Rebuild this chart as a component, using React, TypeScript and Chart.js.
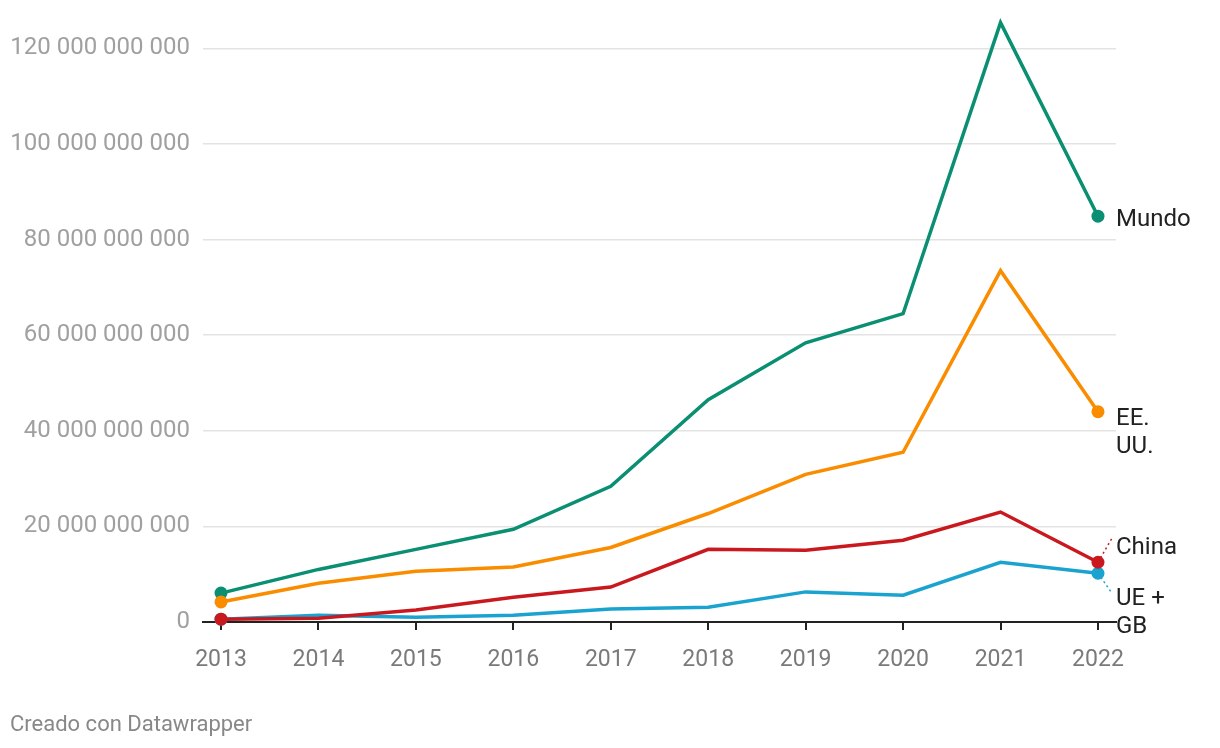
import React, { useEffect, useRef } from "react";
import { Chart, registerables } from "chart.js";

Chart.register(...registerables);

const years = [2013, 2014, 2015, 2016, 2017, 2018, 2019, 2020, 2021, 2022];
const yTicks = [0, 20e9, 40e9, 60e9, 80e9, 100e9, 120e9];

const mundo = [6.05e9, 11e9, 15.2e9, 19.4e9, 28.4e9, 46.5e9, 58.4e9, 64.5e9, 125.4e9, 84.9e9];
const eeuu = [4.2e9, 8.1e9, 10.6e9, 11.5e9, 15.6e9, 22.7e9, 30.9e9, 35.5e9, 73.5e9, 44e9];
const china = [0.6e9, 0.8e9, 2.5e9, 5.2e9, 7.3e9, 15.2e9, 15e9, 17.1e9, 23e9, 12.5e9];
const ueGb = [0.6e9, 1.4e9, 1.0e9, 1.4e9, 2.7e9, 3.1e9, 6.3e9, 5.6e9, 12.5e9, 10.2e9];

const seriesNames = [["Mundo"], ["EE.", "UU."], ["China"], ["UE +", "GB"]];
const seriesData = [mundo, eeuu, china, ueGb];
const seriesColors = ["#0a8f72", "#fa8c00", "#c9191e", "#1ba3d0"];
// label placement relative to the last point (style only)
const labelDy = [4, 7, -14, 26];
const connector = [false, false, true, true];

const FONT = "Roboto, 'Noto Sans', sans-serif";

function fmt(v: number) {
  const s = Math.round(v).toString();
  return s.replace(/\B(?=(\d{3})+(?!\d))/g, " ");
}

export default function App() {
  const ref = useRef<HTMLCanvasElement | null>(null);
  useEffect(() => {
    if (!ref.current) return;
    const endLabels = {
      id: "endLabels",
      afterDatasetsDraw(chart: any) {
        const ctx = chart.ctx;
        ctx.save();
        seriesData.forEach((_d, i) => {
          const meta = chart.getDatasetMeta(i);
          const pt = meta.data[meta.data.length - 1];
          const px = pt.x;
          const py = pt.y;
          const lines = seriesNames[i];
          const ly = py + labelDy[i];
          if (connector[i]) {
            ctx.strokeStyle = seriesColors[i];
            ctx.lineWidth = 1.5;
            ctx.setLineDash([2, 3]);
            ctx.beginPath();
            ctx.moveTo(px, py);
            const ty = labelDy[i] < 0 ? ly - 10 : ly - 6;
            ctx.lineTo(px + 14, ty);
            ctx.stroke();
            ctx.setLineDash([]);
          }
          ctx.fillStyle = "#222";
          ctx.font = `24px ${FONT}`;
          ctx.textAlign = "left";
          ctx.textBaseline = "middle";
          lines.forEach((t, k) => {
            ctx.fillText(t, 1116, ly + k * 28);
          });
        });
        ctx.fillStyle = "#888";
        ctx.font = `22px ${FONT}`;
        ctx.textBaseline = "middle";
        ctx.fillText("Creado con Datawrapper", 10, 725);
        ctx.restore();
      },
    };

    const chart = new Chart(ref.current, {
      type: "line",
      data: {
        datasets: seriesData.map((d, i) => ({
          label: seriesNames[i].join(" "),
          data: d.map((v, j) => ({ x: years[j], y: v })),
          borderColor: seriesColors[i],
          backgroundColor: seriesColors[i],
          borderWidth: 3.5,
          tension: 0,
          pointRadius: (c: any) => (c.dataIndex === 0 || c.dataIndex === d.length - 1 ? 6.5 : 0),
          pointBorderWidth: 0,
          pointHoverRadius: 0,
          order: [3, 2, 0, 1][i],
          clip: false,
        })),
      },
      options: {
        animation: false,
        responsive: false,
        maintainAspectRatio: false,
        events: [],
        layout: { padding: { top: 0, right: 104, left: 0, bottom: 0 } },
        plugins: { legend: { display: false }, tooltip: { enabled: false } },
        scales: {
          x: {
            type: "linear",
            min: 2012.815,
            max: 2022.185,
            afterBuildTicks: (s: any) => {
              s.ticks = years.map((v) => ({ value: v }));
            },
            afterFit: (s: any) => {
              s.height = 126;
            },
            ticks: {
              callback: (v: any) => String(v),
              color: "#7a7a7a",
              font: { family: FONT, size: 23 },
              padding: 16,
              maxRotation: 0,
              autoSkip: false,
            },
            grid: {
              drawOnChartArea: false,
              drawTicks: true,
              tickLength: 8,
              color: "#222",
              lineWidth: 2,
            },
            border: { display: true, color: "#222", width: 2 },
          },
          y: {
            type: "linear",
            min: 0,
            max: 124.4e9,
            afterBuildTicks: (s: any) => {
              s.ticks = yTicks.map((v) => ({ value: v }));
            },
            afterFit: (s: any) => {
              s.width = 203;
            },
            ticks: {
              callback: (v: any) => fmt(Number(v)),
              color: "#a0a0a0",
              font: { family: FONT, size: 24 },
              padding: 13,
            },
            grid: {
              drawTicks: false,
              color: (c: any) => (c.tick && c.tick.value === 0 ? "rgba(0,0,0,0)" : "#e3e3e3"),
              lineWidth: 1.5,
            },
            border: { display: false },
          },
        },
      },
      plugins: [endLabels],
    } as any);
    return () => chart.destroy();
  }, []);

  return (
    <div style={{ position: "absolute", left: 0, top: 0, width: 1220, height: 748, background: "#fff" }}>
      <canvas ref={ref} width={1220} height={748} style={{ width: 1220, height: 748, display: "block" }} />
    </div>
  );
}
